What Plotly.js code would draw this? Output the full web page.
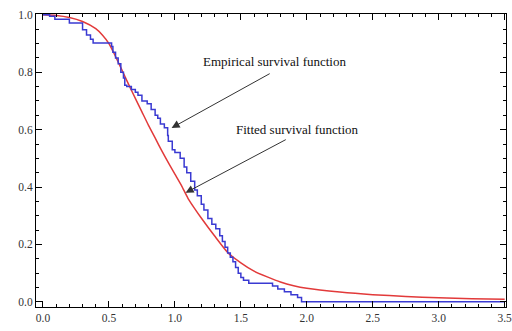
<!DOCTYPE html>
<html>
<head>
<meta charset="utf-8">
<script src="https://cdn.plot.ly/plotly-3.0.1.min.js"></script>
<style>html,body{margin:0;padding:0;background:#fff;}#chart{width:512px;height:331px;}</style>
</head>
<body>
<div id="chart"></div>
<script>
// Empirical survival function (step function): jump times and survival after each jump
const empX = [0, 0.05, 0.09, 0.20, 0.30, 0.33, 0.36, 0.38, 0.52, 0.53, 0.55, 0.57, 0.59, 0.61, 0.62, 0.635, 0.67, 0.70, 0.72, 0.75, 0.79, 0.82, 0.85, 0.87, 0.89, 0.92, 0.945, 0.95, 0.98, 1.0, 1.04, 1.07, 1.09, 1.12, 1.15, 1.17, 1.2, 1.22, 1.25, 1.28, 1.31, 1.34, 1.36, 1.38, 1.40, 1.42, 1.44, 1.46, 1.48, 1.50, 1.52, 1.56, 1.74, 1.78, 1.83, 1.88, 1.93, 1.96, 3.5];
const empY = [1.0, 0.995, 0.985, 0.972, 0.948, 0.93, 0.915, 0.902, 0.89, 0.87, 0.85, 0.83, 0.80, 0.78, 0.755, 0.75, 0.74, 0.73, 0.72, 0.70, 0.69, 0.67, 0.65, 0.64, 0.62, 0.607, 0.58, 0.56, 0.53, 0.52, 0.50, 0.47, 0.45, 0.42, 0.39, 0.37, 0.34, 0.32, 0.29, 0.27, 0.255, 0.23, 0.21, 0.19, 0.17, 0.155, 0.14, 0.12, 0.10, 0.085, 0.075, 0.065, 0.055, 0.045, 0.035, 0.025, 0.015, 0.0, 0.0];

// Fitted survival function
const fitX = [0, 0.1, 0.2, 0.3, 0.4, 0.45, 0.5, 0.55, 0.6, 0.65, 0.7, 0.75, 0.8, 0.85, 0.9, 0.95, 1.0, 1.05, 1.1, 1.15, 1.2, 1.3, 1.4, 1.5, 1.6, 1.7, 1.8, 1.9, 2.0, 2.25, 2.5, 2.75, 3.0, 3.25, 3.5];
const fitY = [1.0, 0.998, 0.991, 0.977, 0.952, 0.93, 0.9, 0.855, 0.806, 0.757, 0.709, 0.662, 0.615, 0.571, 0.527, 0.485, 0.445, 0.405, 0.36, 0.325, 0.292, 0.23, 0.172, 0.136, 0.107, 0.087, 0.069, 0.056, 0.047, 0.034, 0.025, 0.019, 0.014, 0.011, 0.009];

const xTickVals = [0, 0.5, 1, 1.5, 2, 2.5, 3, 3.5];
const xTickText = ["0.0", "0.5", "1.0", "1.5", "2.0", "2.5", "3.0", "3.5"];
const yTickVals = [0, 0.2, 0.4, 0.6, 0.8, 1.0];
const yTickText = ["0.0", "0.2", "0.4", "0.6", "0.8", "1.0"];

const labels = ["Empirical survival function", "Fitted survival function"];

const traces = [
  {x: fitX, y: fitY, mode: 'lines', line: {color: '#e23a3a', width: 1.5, shape: 'spline', smoothing: 0.6}, hoverinfo: 'skip'},
  {x: empX, y: empY, mode: 'lines', line: {color: '#3a3ad2', width: 1.5, shape: 'hv'}, hoverinfo: 'skip'}
];

const axisFont = {family: 'Liberation Serif, Times New Roman, serif', size: 11.5, color: '#333'};
const noteFont = {family: 'Liberation Serif, Times New Roman, serif', size: 13, color: '#111'};

const layout = {
  width: 512, height: 331,
  margin: {l: 36, r: 6, t: 14, b: 24},
  paper_bgcolor: '#fff', plot_bgcolor: '#fff',
  showlegend: false,
  xaxis: {
    range: [-0.053, 3.51], showgrid: false, zeroline: false,
    showline: true, linecolor: '#000', linewidth: 1, mirror: 'ticks',
    ticks: 'inside', ticklen: 6, tickcolor: '#000', tickwidth: 1,
    tickvals: xTickVals, ticktext: xTickText, tickfont: axisFont,
    ticklabeloverflow: 'allow',
    minor: {dtick: 0.1, ticks: 'inside', ticklen: 3, tickcolor: '#000', showgrid: false}
  },
  yaxis: {
    range: [-0.018, 1.003], showgrid: false, zeroline: false,
    showline: true, linecolor: '#000', linewidth: 1, mirror: 'ticks',
    ticks: 'inside', ticklen: 6, tickcolor: '#000', tickwidth: 1,
    tickvals: yTickVals, ticktext: yTickText, tickfont: axisFont,
    ticklabeloverflow: 'allow',
    minor: {dtick: 0.05, ticks: 'inside', ticklen: 3, tickcolor: '#000', showgrid: false}
  },
  annotations: [
    {x: 1.754, y: 0.836, xref: 'x', yref: 'y', text: labels[0], showarrow: false, font: noteFont},
    {x: 0.975, y: 0.606, xref: 'x', yref: 'y', ax: 1.73, ay: 0.798, axref: 'x', ayref: 'y', text: '',
     showarrow: true, arrowhead: 2, arrowsize: 1.6, arrowwidth: 1, arrowcolor: '#333'},
    {x: 1.93, y: 0.6, xref: 'x', yref: 'y', text: labels[1], showarrow: false, font: noteFont},
    {x: 1.081, y: 0.38, xref: 'x', yref: 'y', ax: 1.852, ay: 0.568, axref: 'x', ayref: 'y', text: '',
     showarrow: true, arrowhead: 2, arrowsize: 1.6, arrowwidth: 1, arrowcolor: '#333'}
  ]
};

Plotly.newPlot('chart', traces, layout, {staticPlot: true, displayModeBar: false});
</script>
</body>
</html>
